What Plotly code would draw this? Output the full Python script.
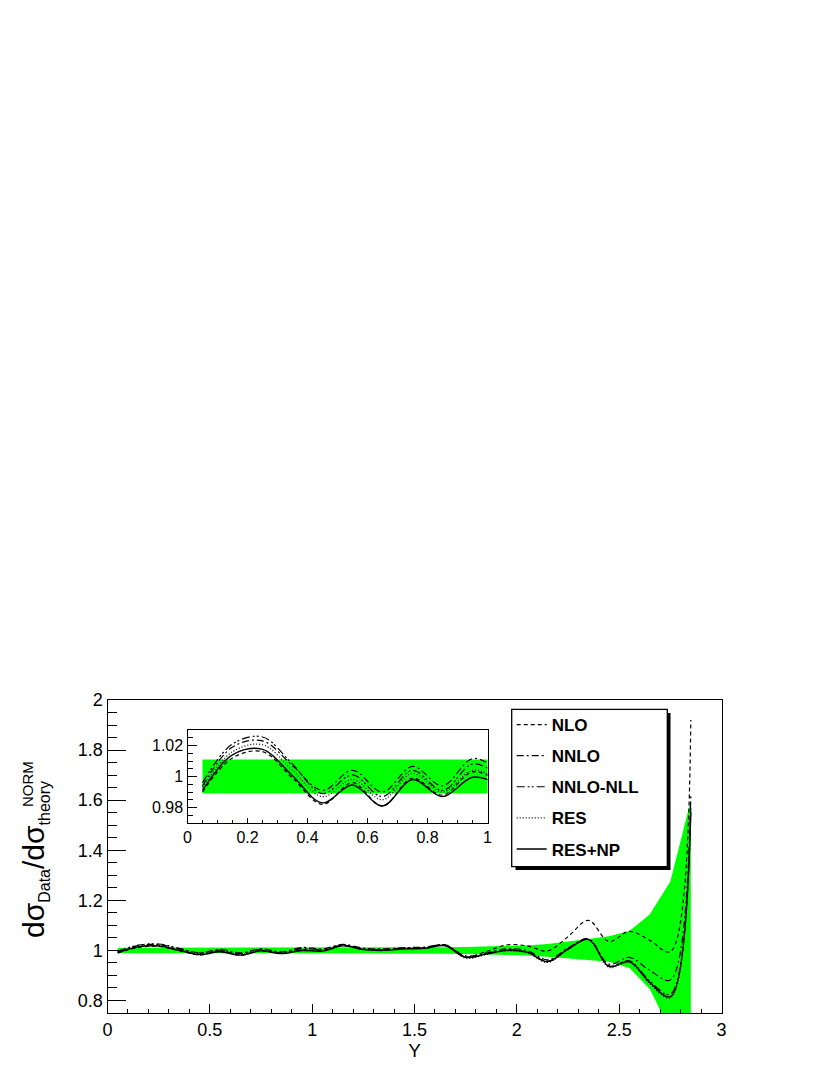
import plotly.graph_objects as go

# Rapidity bin centres
y_bins = [0.05, 0.15, 0.25, 0.35, 0.45, 0.55, 0.65, 0.75, 0.85, 0.95,
          1.05, 1.15, 1.25, 1.35, 1.45, 1.55, 1.65, 1.75, 1.85, 1.95,
          2.05, 2.15, 2.25, 2.35, 2.45, 2.55, 2.65, 2.75, 2.85]

# Data/theory ratios
nlo = [0.990, 1.012, 1.016, 0.999, 0.982, 0.996, 0.981, 0.999, 0.988, 1.003,
       0.999, 1.020, 1.005, 1.002, 1.008, 1.011, 1.022, 0.975, 0.995, 1.022,
       1.018, 0.998, 1.055, 1.120, 1.035, 1.076, 1.040, 0.995, 1.92]
nnlo = [0.994, 1.019, 1.023, 1.007, 0.991, 1.004, 0.990, 1.0065, 0.994, 1.0115,
        1.006, 1.024, 1.009, 1.006, 1.011, 1.013, 1.022, 0.978, 0.990, 1.006,
        1.000, 0.962, 1.010, 1.046, 0.945, 0.972, 0.920, 0.882, 1.62]
nnlo_nll = [0.996, 1.021, 1.0255, 1.008, 0.989, 1.001, 0.987, 1.004, 0.991, 1.008,
            1.003, 1.022, 1.006, 1.003, 1.009, 1.011, 1.020, 0.974, 0.987, 1.002,
            0.995, 0.957, 1.007, 1.045, 0.938, 0.958, 0.878, 0.825, 1.57]
res = [0.993, 1.016, 1.0205, 1.004, 0.987, 0.998, 0.985, 1.002, 0.990, 1.004,
       1.000, 1.020, 1.004, 1.001, 1.007, 1.009, 1.019, 0.969, 0.983, 0.998,
       0.990, 0.952, 1.003, 1.043, 0.932, 0.952, 0.866, 0.810, 1.56]
res_np = [0.991, 1.014, 1.0175, 1.0005, 0.983, 0.9945, 0.981, 0.998, 0.987, 0.9995,
          0.997, 1.018, 1.003, 1.000, 1.006, 1.008, 1.018, 0.972, 0.985, 1.000,
          0.993, 0.955, 1.005, 1.044, 0.936, 0.955, 0.872, 0.815, 1.55]

# Data uncertainty band
band_hi = [1.011, 1.011, 1.011, 1.011, 1.011, 1.011, 1.011, 1.011, 1.011, 1.011,
           1.011, 1.011, 1.011, 1.011, 1.011, 1.011, 1.013, 1.014, 1.015, 1.017,
           1.020, 1.026, 1.035, 1.046, 1.057, 1.077, 1.144, 1.275, 1.60]
band_lo = [0.989, 0.989, 0.989, 0.989, 0.989, 0.989, 0.989, 0.989, 0.989, 0.989,
           0.989, 0.989, 0.989, 0.989, 0.989, 0.989, 0.987, 0.986, 0.985, 0.983,
           0.980, 0.975, 0.968, 0.962, 0.955, 0.930, 0.845, 0.680, 0.45]

series = [
    ("NLO", nlo, "4px,3px"),
    ("NNLO", nnlo, "7px,3px,2px,3px"),
    ("NNLO-NLL", nnlo_nll, "8px,3px,2px,2px,2px,3px"),
    ("RES", res, "1px,2px"),
    ("RES+NP", res_np, "solid"),
]

# page body has an 8px margin, so the figure is shrunk to fit inside the window
OFF = 8
W, H = 830 - 2 * OFF, 1075 - 2 * OFF
FONT = "Liberation Sans, Arial, Helvetica, sans-serif"
GREEN = "#00ff00"


def px_x(p):
    return (p - OFF) / W


def px_y(p):
    return 1 - (p - OFF) / H


fig = go.Figure()

for xa, ya in (("x", "y"), ("x2", "y2")):
    fig.add_trace(go.Scatter(x=y_bins, y=band_lo, mode="lines", line=dict(width=0),
                             xaxis=xa, yaxis=ya, showlegend=False, hoverinfo="skip"))
    fig.add_trace(go.Scatter(x=y_bins, y=band_hi, mode="lines", line=dict(width=0),
                             fill="tonexty", fillcolor=GREEN,
                             xaxis=xa, yaxis=ya, showlegend=False, hoverinfo="skip"))

for name, vals, dash in series:
    width = 1.4 if dash == "solid" else 1.2
    line = dict(color="black", width=width, dash=dash, shape="spline", smoothing=1.0)
    fig.add_trace(go.Scatter(x=y_bins, y=vals, mode="lines", name=name, line=line,
                             legendgroup=name, showlegend=True))
    fig.add_trace(go.Scatter(x=y_bins, y=vals, mode="lines", name=name, line=line,
                             xaxis="x2", yaxis="y2", showlegend=False))

axis_common = dict(showline=True, linecolor="black", linewidth=1.3, mirror=True,
                   ticks="inside", tickcolor="black", showgrid=False, zeroline=False,
                   automargin=False,
                   tickfont=dict(family=FONT, size=18, color="black"))
inset_axis = {**axis_common, "tickfont": dict(family=FONT, size=16, color="black")}

fig.update_layout(
    template="none",
    width=W, height=H,
    margin=dict(l=0, r=0, t=0, b=0, autoexpand=False),
    paper_bgcolor="white", plot_bgcolor="white",
    font=dict(family=FONT, color="black"),
    xaxis=dict(domain=[px_x(107.5), px_x(721.5)], range=[0, 3], dtick=0.5,
               ticklen=9, tickwidth=1,
               minor=dict(dtick=0.1, ticklen=4, ticks="inside", tickcolor="black"),
               title=dict(text="Y", font=dict(family=FONT, size=19), standoff=0),
               **axis_common),
    yaxis=dict(domain=[px_y(1013), px_y(700)], range=[0.75, 2.0], dtick=0.2,
               tick0=0, ticklen=18, tickwidth=1,
               minor=dict(dtick=0.05, ticklen=9, ticks="inside", tickcolor="black"),
               **axis_common),
    xaxis2=dict(domain=[px_x(187.5), px_x(487.5)], range=[0, 1], dtick=0.2,
                ticklen=5, anchor="y2",
                minor=dict(dtick=0.05, ticklen=3, ticks="inside", tickcolor="black"),
                **inset_axis),
    yaxis2=dict(domain=[px_y(823), px_y(730)], range=[0.97, 1.03], dtick=0.02,
                ticklen=9, anchor="x2",
                minor=dict(dtick=0.005, ticklen=5, ticks="inside", tickcolor="black"),
                **inset_axis),
    legend=dict(x=px_x(511.7), y=px_y(707), xanchor="left", yanchor="top",
                bgcolor="rgba(0,0,0,0)", borderwidth=0, tracegroupgap=6,
                font=dict(family=FONT, size=17, color="black", weight="bold")),
)

# legend box with shadow
fig.add_shape(type="rect", xref="paper", yref="paper",
              x0=px_x(515.5), x1=px_x(670.5), y0=px_y(870), y1=px_y(713),
              fillcolor="black", line=dict(width=0), layer="above")
fig.add_shape(type="rect", xref="paper", yref="paper",
              x0=px_x(511.7), x1=px_x(667.3), y0=px_y(866.7), y1=px_y(709.3),
              fillcolor="white", line=dict(color="black", width=1.3), layer="above")

# y-axis title
fig.add_annotation(
    xref="paper", yref="paper", x=px_x(35), y=px_y(860), xanchor="center", yanchor="middle",
    textangle=-90, showarrow=False,
    text="dσ<sub><span style=\"font-size:16px\">Data</span></sub>/dσ"
         "<sub><span style=\"font-size:16px\">theory</span></sub>",
    font=dict(family=FONT, size=30, color="black"),
)
fig.add_annotation(
    xref="paper", yref="paper", x=px_x(27), y=px_y(784), xanchor="center", yanchor="middle",
    textangle=-90, showarrow=False, text="NORM",
    font=dict(family=FONT, size=15, color="black"),
)

fig.write_html("out.html")
